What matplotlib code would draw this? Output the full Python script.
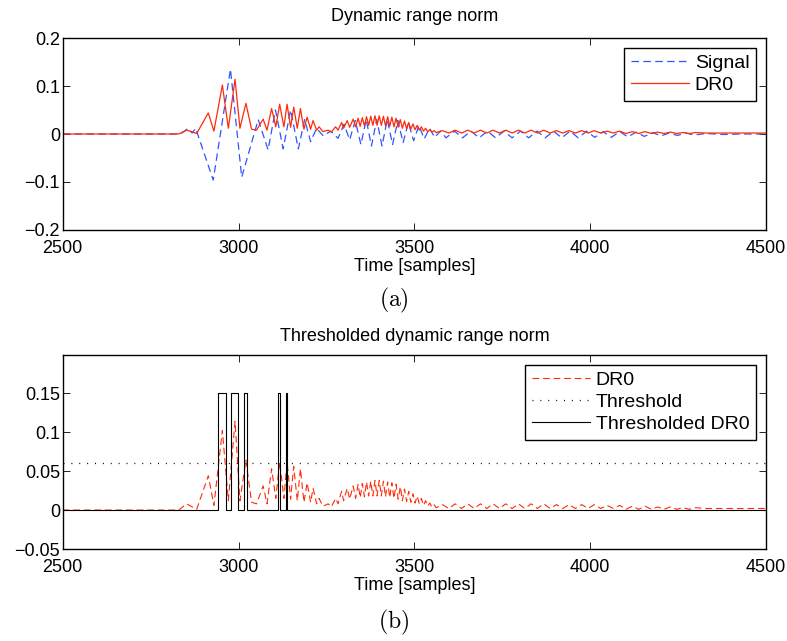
import numpy as np
import matplotlib.pyplot as plt

plt.rcParams['font.family'] = ['Liberation Sans', 'DejaVu Sans']
plt.rcParams['mathtext.fontset'] = 'cm'

# ---- data (time in samples) ----
# DR0: turning points of the dynamic range norm
dr0_t = [2500, 2830, 2852, 2881, 2914, 2930, 2954, 2971, 2990, 3004,
         3021, 3037, 3051, 3070, 3081, 3094, 3106, 3117, 3129, 3138,
         3148, 3157, 3167, 3176, 3186, 3195, 3205, 3212, 3222, 3229,
         3240, 3255, 3264, 3276, 3283, 3293, 3299, 3309, 3316, 3326,
         3333, 3340, 3346, 3352, 3358, 3364, 3370, 3376, 3382, 3388,
         3394, 3400, 3406, 3412, 3418, 3424, 3430, 3436, 3442, 3448,
         3454, 3460, 3466, 3472, 3478, 3484, 3490, 3496, 3502, 3508,
         3514, 3520, 3526, 3532, 3538, 3544, 3550, 3556, 3562, 3580,
         3598, 3616, 3634, 3652, 3670, 3688, 3706, 3724, 3742, 3760,
         3778, 3796, 3814, 3832, 3850, 3868, 3886, 3904, 3922, 3940,
         3958, 3976, 3994, 4012, 4030, 4048, 4066, 4084, 4102, 4120,
         4138, 4156, 4174, 4192, 4210, 4228, 4246, 4264, 4282, 4300,
         4330, 4360, 4390, 4420, 4450, 4500]
dr0_v = [0.0, 0.0, 0.008, 0.001, 0.044, 0.006, 0.102, 0.012, 0.114, 0.012,
         0.064, 0.010, 0.008, 0.031, 0.008, 0.053, 0.015, 0.062, 0.015, 0.062,
         0.014, 0.056, 0.012, 0.053, 0.010, 0.035, 0.010, 0.028, 0.008, 0.015,
         0.005, 0.008, 0.004, 0.015, 0.008, 0.024, 0.012, 0.028, 0.014, 0.031,
         0.015, 0.033, 0.016, 0.034, 0.017, 0.036, 0.018, 0.037, 0.018, 0.038,
         0.018, 0.038, 0.018, 0.037, 0.017, 0.036, 0.016, 0.035, 0.015, 0.033,
         0.014, 0.030, 0.012, 0.027, 0.011, 0.024, 0.010, 0.021, 0.009, 0.018,
         0.008, 0.015, 0.006, 0.012, 0.005, 0.009, 0.004, 0.007, 0.003, 0.007,
         0.002, 0.008, 0.002, 0.008, 0.002, 0.008, 0.002, 0.008, 0.002, 0.008,
         0.002, 0.008, 0.002, 0.008, 0.002, 0.008, 0.002, 0.007, 0.002, 0.007,
         0.002, 0.007, 0.002, 0.007, 0.002, 0.006, 0.002, 0.006, 0.001, 0.005,
         0.001, 0.005, 0.001, 0.004, 0.001, 0.004, 0.001, 0.003, 0.001, 0.003,
         0.002, 0.002, 0.002, 0.002, 0.002, 0.002]

# Signal: turning points of the raw signal
sig_t = [2500, 2835, 2857, 2868, 2878, 2928, 2977, 3009, 3056, 3084,
         3105, 3127, 3148, 3170, 3188, 3205, 3222, 3241, 3262, 3283,
         3300, 3316, 3332, 3348, 3363, 3378, 3393, 3408, 3423, 3438,
         3453, 3468, 3483, 3498, 3513, 3528, 3543, 3558, 3574, 3590,
         3614, 3637, 3661, 3684, 3708, 3731, 3755, 3778, 3802, 3825,
         3849, 3872, 3896, 3919, 3943, 3966, 3990, 4013, 4037, 4060,
         4084, 4107, 4131, 4154, 4178, 4201, 4225, 4248, 4272, 4295,
         4330, 4380, 4430, 4500]
sig_v = [0.0, 0.0, 0.012, 0.002, 0.012, -0.096, 0.135, -0.090, 0.030, -0.033,
         0.050, -0.031, 0.050, -0.031, 0.030, -0.016, 0.012, -0.004, 0.006, -0.009,
         0.020, -0.012, 0.028, -0.022, 0.030, -0.025, 0.030, -0.025, 0.030, -0.022,
         0.028, -0.018, 0.024, -0.014, 0.018, -0.010, 0.012, -0.007, 0.006, -0.008,
         0.006, -0.008, 0.006, -0.008, 0.006, -0.008, 0.006, -0.008, 0.006, -0.008,
         0.006, -0.008, 0.006, -0.008, 0.006, -0.008, 0.006, -0.007, 0.005, -0.007,
         0.005, -0.006, 0.004, -0.005, 0.003, -0.004, 0.002, -0.003, 0.002, -0.002,
         0.001, -0.001, 0.0, 0.0]

threshold = 0.06
pulse_height = 0.15
pulse_on = [2942, 2978, 3015, 3113, 3134]
pulse_off = [2964, 2999, 3023, 3118, 3138]

xlim = (2500, 4500)
xticks = [2500, 3000, 3500, 4000, 4500]

# thresholded DR0 as a step trace built from the pulse edges
thr_t = [xlim[0]]
thr_v = [0.0]
for on, off in zip(pulse_on, pulse_off):
    thr_t += [on, on, off, off]
    thr_v += [0.0, pulse_height, pulse_height, 0.0]
thr_t.append(xlim[1])
thr_v.append(0.0)

blue = '#2f55ff'
red = '#ff2a0a'
fs = 13
fs_leg = 14


def style_axes(ax):
    ax.set_xlim(*xlim)
    ax.set_xticks(xticks)
    ax.tick_params(direction='in', top=True, right=True, labelsize=fs,
                   length=5, width=0.6)
    ax.tick_params(axis='x', pad=7)
    ax.tick_params(axis='y', pad=2)
    for sp in ax.spines.values():
        sp.set_linewidth(1.0)
    ax.set_xlabel('Time [samples]', fontsize=fs, labelpad=1)


def add_legend(ax):
    leg = ax.legend(loc='upper right', fontsize=fs_leg, handlelength=3.0,
                    handletextpad=0.3, borderpad=0.35, labelspacing=0.22,
                    fancybox=False, edgecolor='black', framealpha=1,
                    borderaxespad=0.5)
    leg.get_frame().set_linewidth(1.0)


fig = plt.figure(figsize=(7.87, 6.41), dpi=100)

# ---- (a) dynamic range norm ----
ax1 = fig.add_axes([0.0797, 0.6412, 0.8936, 0.2995])
ax1.plot(sig_t, sig_v, color=blue, lw=0.9, dashes=(6, 3.5), label='Signal')
ax1.plot(dr0_t, dr0_v, color=red, lw=0.9, label='DR0')
ax1.set_ylim(-0.2, 0.2)
ax1.set_yticks([-0.2, -0.1, 0, 0.1, 0.2])
ax1.set_yticklabels(['\u22120.2', '\u22120.1', '0', '0.1', '0.2'])
style_axes(ax1)
ax1.set_title('Dynamic range norm', fontsize=fs, pad=12)
add_legend(ax1)

# ---- (b) thresholded dynamic range norm ----
ax2 = fig.add_axes([0.0797, 0.1435, 0.8936, 0.3027])
ax2.plot(dr0_t, dr0_v, color=red, lw=0.8, dashes=(6, 3.5), label='DR0')
ax2.plot(xlim, [threshold, threshold], color='black', lw=0.9,
         dashes=(0.8, 5.5), label='Threshold')
ax2.plot(thr_t, thr_v, color='black', lw=0.8, label='Thresholded DR0')
ax2.set_ylim(-0.05, 0.199)
ax2.set_yticks([-0.05, 0, 0.05, 0.1, 0.15])
ax2.set_yticklabels(['\u22120.05', '0', '0.05', '0.1', '0.15'])
style_axes(ax2)
ax2.set_title('Thresholded dynamic range norm', fontsize=fs, pad=10)
add_legend(ax2)

fig.text(0.5, 1 - 300 / 641, r'$\mathrm{(a)}$', ha='center', va='center', fontsize=17)
fig.text(0.5, 1 - 622 / 641, r'$\mathrm{(b)}$', ha='center', va='center', fontsize=17)

fig.savefig('out.png', dpi=100)
